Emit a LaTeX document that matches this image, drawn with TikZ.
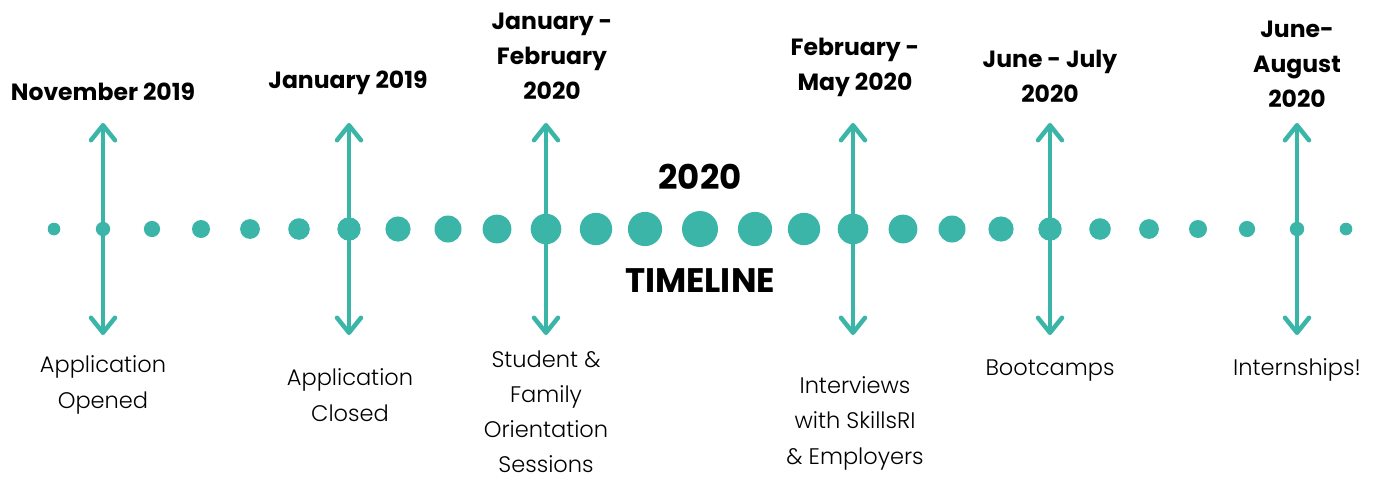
\documentclass[tikz,border=0pt]{standalone}
\usepackage{fontspec}
\setmainfont{Poppins}
\newfontfamily\lightfont{Poppins Light}
\usetikzlibrary{arrows.meta}
\definecolor{teal1}{RGB}{58,181,168}
\tikzset{
  dot/.style={circle,fill=teal1,inner sep=0pt,minimum size=#1},
  arr/.style={draw=teal1,line width=4.5pt,line cap=round,
    {Straight Barb[length=15pt,width=24pt,round]}-{Straight Barb[length=15pt,width=24pt,round]}},
  head/.style={font=\fontsize{23.5}{35}\selectfont\bfseries,align=center,text=black},
  body/.style={font=\fontsize{22.5}{35.5}\lightfont,align=center,text=black,inner sep=0pt},
  big/.style={font=\fontsize{34}{38}\selectfont\bfseries,text=black},
}
\begin{document}
\begin{tikzpicture}[x=1pt,y=-1pt]
\useasboundingbox (0,0) rectangle (1376,479);
% dots
\foreach \xx/\k [count=\i] in {54/13,103/12,152/11,201/10,250/9,299/8,349/7,398/6,448/5,497/4,546/3,596/2,645/1,700/0,755/1,804/2,853/3,903/4,952/5,1001/6,1050/7,1100/8,1149/9,1198/10,1247/11,1297/12,1346/13}{
  \pgfmathsetmacro{\dd}{2*(18-0.9*\k)}
  \node[dot=\dd pt] (d\i) at (\xx,229) {};
}
% arrows
\foreach \xx [count=\j] in {103,349,546,853,1050,1297}{
  \coordinate (t\j) at (\xx,123);
  \coordinate (b\j) at (\xx,335);
  \draw[arr] (t\j) -- (b\j);
}
% headings
\node[head] (h1) at (103,92) {November 2019};
\node[head] (h2) at (348,83) {January 2019};
\node[head] (h3) at (552,56) {January -\\February\\2020};
\node[head] (h4) at (855,67) {February -\\May 2020};
\node[head] (h5) at (1050,76) {June - July\\2020};
\node[head] (h6) at (1297,64) {June-\\August\\2020};
\node[big] (y) at (700,177) {2020};
\node[big] (tl) at (700,281) {TIMELINE};
% labels
\node[body] (l1) at (103,385) {Application\\Opened};
\node[body] (l2) at (350,395) {Application\\Closed};
\node[body,font=\fontsize{22.5}{35}\lightfont] (l3) at (546,412) {Student \&\\Family\\Orientation\\Sessions};
\node[body] (l4) at (855,423) {Interviews\\with SkillsRI\\\& Employers};
\node[body] (l5) at (1050,371) {Bootcamps};
\node[body] (l6) at (1297,370) {Internships!};
\end{tikzpicture}
\end{document}
